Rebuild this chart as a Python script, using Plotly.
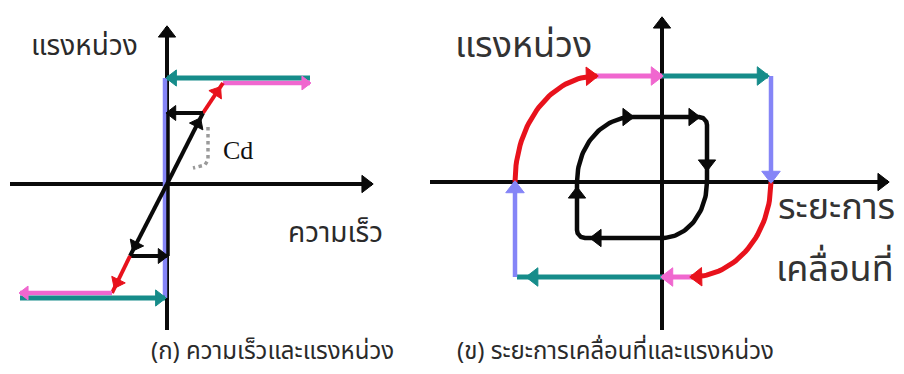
import math
import plotly.graph_objects as go

# ---------------------------------------------------------------
# Panel (ก): damping force vs. velocity  (units: px about origin)
# ---------------------------------------------------------------
ka_axis_x = [-157, 205]          # horizontal axis extent
ka_axis_y = [-146, 157]          # vertical axis extent

ka_teal_top_x, ka_teal_top_y = [143, 0], [106, 106]
ka_pink_top_x, ka_pink_top_y = [56, 143], [101, 101]
ka_red_top_x, ka_red_top_y = [36, 56], [71, 101]
ka_blk_top_x, ka_blk_top_y = [36, 0], [71, 71]
ka_diag_up_x, ka_diag_up_y = [0, 36], [0, 71]
ka_blue_x, ka_blue_y = [-2, -2], [106, -114]
ka_blk_v_x, ka_blk_v_y = [1, 1], [71, -72]
ka_blk_bot_x, ka_blk_bot_y = [-37, 0], [-72, -72]
ka_diag_dn_x, ka_diag_dn_y = [0, -37], [0, -72]
ka_red_bot_x, ka_red_bot_y = [-37, -55], [-72, -109]
ka_pink_bot_x, ka_pink_bot_y = [-55, -147], [-109, -109]
ka_teal_bot_x, ka_teal_bot_y = [-147, -2], [-114, -114]
ka_cd_x, ka_cd_y = [41, 41, 38, 26], [57, 24, 19, 16]

# ---------------------------------------------------------------
# Panel (ข): damping force vs. displacement
# ---------------------------------------------------------------
kb_axis_x = [-232, 226]
kb_axis_y = [-148, 164]

kb_red_ul = dict(cx=-65, cy=0, rx=82, ry=106, a0=180, a1=90)
kb_pink_top_x, kb_pink_top_y = [-65, 0], [106, 106]
kb_teal_top_x, kb_teal_top_y = [0, 106], [106, 106]
kb_blue_r_x, kb_blue_r_y = [109, 109], [106, 0]
kb_red_lr = dict(cx=29, cy=0, rx=80, ry=95, a0=0, a1=-90)
kb_pink_bot_x, kb_pink_bot_y = [29, 0], [-95, -95]
kb_teal_bot_x, kb_teal_bot_y = [0, -145], [-95, -95]
kb_blue_l_x, kb_blue_l_y = [-147, -147], [-95, 0]

kb_in_arc1 = dict(cx=-29, cy=0, rx=56, ry=65, a0=180, a1=90)
kb_in_top_x, kb_in_top_y = [-29, 37], [65, 65]
kb_in_corner1 = dict(cx=37, cy=57, rx=8, ry=8, a0=90, a1=0)
kb_in_right_x, kb_in_right_y = [45, 45], [57, 0]
kb_in_arc2 = dict(cx=0, cy=0, rx=45, ry=56, a0=0, a1=-90)
kb_in_bot_x, kb_in_bot_y = [0, -77], [-56, -56]
kb_in_corner2 = dict(cx=-77, cy=-48, rx=8, ry=8, a0=270, a1=180)
kb_in_left_x, kb_in_left_y = [-85, -85], [-48, 0]

TEAL = "#168c8a"
PINK = "#f067cf"
RED = "#e8121c"
BLUE = "#8585f7"
BLACK = "#0a0a0a"
GREY = "#9a9a9a"
THAI = "Noto Sans Thai, Loma, Garuda, Sarabun, Tlwg Typist, sans-serif"

fig = go.Figure()


def arc(a):
    n = 40
    xs, ys = [], []
    for i in range(n + 1):
        t = math.radians(a["a0"] + (a["a1"] - a["a0"]) * i / n)
        xs.append(a["cx"] + a["rx"] * math.cos(t))
        ys.append(a["cy"] + a["ry"] * math.sin(t))
    return xs, ys


def line(xs, ys, color, width, ax="", dash=None):
    fig.add_trace(go.Scatter(
        x=xs, y=ys, mode="lines", xaxis="x" + ax, yaxis="y" + ax,
        line=dict(color=color, width=width, dash=dash, shape="linear"),
        hoverinfo="skip", showlegend=False))


def heads(pts, color, size, ax=""):
    """pts: list of (tip_x, tip_y, dir_x, dir_y)."""
    xs, ys, ang = [], [], []
    for x, y, dx, dy in pts:
        L = math.hypot(dx, dy)
        ux, uy = dx / L, dy / L
        back = size * 0.42
        xs.append(x - ux * back)
        ys.append(y - uy * back)
        ang.append(math.degrees(math.atan2(ux, uy)))
    fig.add_trace(go.Scatter(
        x=xs, y=ys, mode="markers", xaxis="x" + ax, yaxis="y" + ax,
        marker=dict(symbol="triangle-up", size=size, color=color,
                    angle=ang, line=dict(width=1, color=color)),
        hoverinfo="skip", showlegend=False))


def end_head(xs, ys, t=1.0):
    x0, y0, x1, y1 = xs[-2], ys[-2], xs[-1], ys[-1]
    return (x0 + (x1 - x0) * t, y0 + (y1 - y0) * t, x1 - x0, y1 - y0)


# ---------------- panel (ก) ----------------
line(ka_axis_x, [0, 0], BLACK, 4)
line([0, 0], ka_axis_y, BLACK, 4)
heads([(ka_axis_x[1], 0, 1, 0), (0, ka_axis_y[1], 0, 1)], BLACK, 15)

line(ka_blue_x, ka_blue_y, BLUE, 4.5)
line(ka_blk_v_x, ka_blk_v_y, BLACK, 3.5)
line(ka_cd_x, ka_cd_y, GREY, 3.5, dash="dot")

line(ka_pink_top_x, ka_pink_top_y, PINK, 4.5)
line(ka_teal_top_x, ka_teal_top_y, TEAL, 5)
line(ka_red_top_x, ka_red_top_y, RED, 4)
line(ka_blk_top_x, ka_blk_top_y, BLACK, 4)
line(ka_diag_up_x, ka_diag_up_y, BLACK, 4)
line(ka_blk_bot_x, ka_blk_bot_y, BLACK, 4)
line(ka_diag_dn_x, ka_diag_dn_y, BLACK, 4)
line(ka_red_bot_x, ka_red_bot_y, RED, 4)
line(ka_pink_bot_x, ka_pink_bot_y, PINK, 4.5)
line(ka_teal_bot_x, ka_teal_bot_y, TEAL, 5)

heads([end_head(ka_teal_top_x, ka_teal_top_y), end_head(ka_teal_bot_x, ka_teal_bot_y)], TEAL, 14)
heads([end_head(ka_pink_top_x, ka_pink_top_y), end_head(ka_pink_bot_x, ka_pink_bot_y)], PINK, 12)
heads([end_head(ka_red_top_x, ka_red_top_y, 0.85), end_head(ka_red_bot_x, ka_red_bot_y, 0.85)], RED, 13)
heads([end_head(ka_blk_top_x, ka_blk_top_y), end_head(ka_blk_bot_x, ka_blk_bot_y),
       end_head(ka_diag_up_x, ka_diag_up_y, 0.92), end_head(ka_diag_dn_x, ka_diag_dn_y, 0.92)],
      BLACK, 13)

# ---------------- panel (ข) ----------------
line(kb_axis_x, [0, 0], BLACK, 4, "2")
line([0, 0], kb_axis_y, BLACK, 4, "2")
heads([(kb_axis_x[1], 0, 1, 0), (0, kb_axis_y[1], 0, 1)], BLACK, 15, "2")

# inner loop
ix, iy = [], []
for part in (arc(kb_in_arc1), (kb_in_top_x, kb_in_top_y), arc(kb_in_corner1),
             (kb_in_right_x, kb_in_right_y), arc(kb_in_arc2),
             (kb_in_bot_x, kb_in_bot_y), arc(kb_in_corner2),
             (kb_in_left_x, kb_in_left_y)):
    ix += list(part[0])
    iy += list(part[1])
line(ix, iy, BLACK, 4.5, "2")
heads([(kb_in_top_x[0], kb_in_top_y[0], 1, 0),
       end_head(kb_in_top_x, kb_in_top_y),
       (kb_in_right_x[0], 12, 0, -1),
       (kb_in_bot_x[1] + 6, kb_in_bot_y[1], -1, 0),
       (kb_in_left_x[0], -6, 0, 1)], BLACK, 15, "2")

# outer loop
rx1, ry1 = arc(kb_red_ul)
rx2, ry2 = arc(kb_red_lr)
line(rx1, ry1, RED, 5, "2")
line(rx2, ry2, RED, 5, "2")
line(kb_pink_top_x, kb_pink_top_y, PINK, 5, "2")
line(kb_pink_bot_x, kb_pink_bot_y, PINK, 5, "2")
line(kb_teal_top_x, kb_teal_top_y, TEAL, 5, "2")
line(kb_teal_bot_x, kb_teal_bot_y, TEAL, 5, "2")
line(kb_blue_r_x, kb_blue_r_y, BLUE, 4.5, "2")
line(kb_blue_l_x, kb_blue_l_y, BLUE, 4.5, "2")

heads([end_head(rx1, ry1), end_head(rx2, ry2)], RED, 16, "2")
heads([end_head(kb_pink_top_x, kb_pink_top_y), end_head(kb_pink_bot_x, kb_pink_bot_y)], PINK, 16, "2")
heads([end_head(kb_teal_top_x, kb_teal_top_y), end_head(kb_teal_bot_x, kb_teal_bot_y, 0.93)], TEAL, 16, "2")
heads([end_head(kb_blue_r_x, kb_blue_r_y), end_head(kb_blue_l_x, kb_blue_l_y)], BLUE, 16, "2")

# ---------------- labels ----------------
def label(text, x, y, size, ax="", color="#2a2a2a", family=THAI):
    fig.add_annotation(text=text, x=x, y=y, xref="x" + ax, yref="y" + ax,
                       showarrow=False, xanchor="center", yanchor="middle",
                       font=dict(family=family, size=size, color=color))


label("แรงหน่วง", -83, 138, 28)
label("Cd", 71, 34, 26, family="Liberation Serif, Times New Roman, serif", color="#111")
label("ความเร็ว", 168, -49, 28)
label("แรงหน่วง", -139, 136, 36, "2", color="#333")
label("ระยะการ", 174, -26, 36, "2", color="#333")
label("เคลื่อนที่", 173, -88, 36, "2", color="#333")
label("(ก) ความเร็วและแรงหน่วง", 105, -168, 24)
label("(ข) ระยะการเคลื่อนที่และแรงหน่วง", -47, -170, 24, "2")

hidden = dict(visible=False, showgrid=False, zeroline=False, fixedrange=True)
fig.update_layout(
    width=904, height=374,
    margin=dict(l=0, r=0, t=0, b=0),
    paper_bgcolor="white", plot_bgcolor="white",
    showlegend=False,
    xaxis=dict(range=[-167, 737], domain=[0, 1], **hidden),
    yaxis=dict(range=[-190, 184], domain=[0, 1], **hidden),
    xaxis2=dict(range=[-662, 242], overlaying="x", **hidden),
    yaxis2=dict(range=[-192, 182], overlaying="y", **hidden),
)

fig.write_html("out.html")
